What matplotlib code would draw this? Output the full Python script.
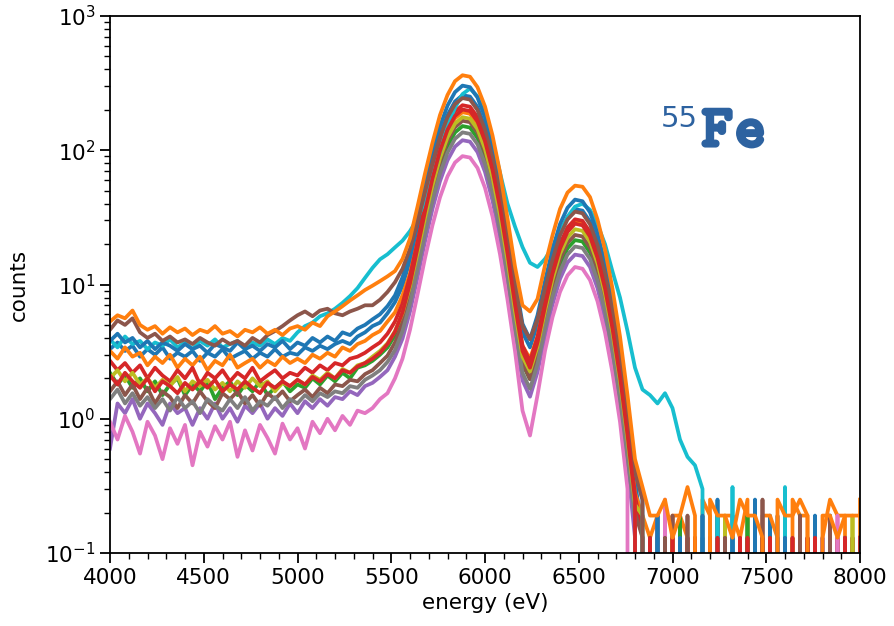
import numpy as np
import matplotlib
matplotlib.use("Agg")
import matplotlib.pyplot as plt
import matplotlib.patheffects as pe
from matplotlib.ticker import MultipleLocator

# Energy bins (eV)
energy = np.arange(4000, 8001, 40)

# Per-pixel spectra (counts per bin)
spec_00 = [3.3, 3.7, 3.2, 3.5, 2.9, 3.3, 3.0, 3.4, 2.8, 3.1, 2.9, 3.2, 2.7, 3.1, 2.9, 3.3, 2.8, 3.0, 3.2, 2.8,
           3.1, 2.9, 3.3, 2.9, 3.1, 3.0, 3.4, 3.2, 3.5, 3.3, 3.6, 3.8, 3.6, 4.1, 4.4,
           4.9, 5.2, 6.1, 7.4, 9.8, 15.1, 26, 46.7, 81, 128, 183, 231,
           257, 251, 210, 150, 91.7, 48.3, 22.2, 9.4, 4.4, 3.4, 5.05, 9.1, 15.6, 23.9, 31.7, 36.4, 35.5, 29.4,
           20.4, 12.2, 6.3, 2.8, 1.0, 0.35,
           0.13, 0, 0, 0.19, 0, 0, 0, 0.13, 0, 0, 0.25, 0, 0, 0, 0.13, 0, 0, 0.19, 0, 0, 0, 0, 0.13, 0, 0,
           0.19, 0, 0, 0.13, 0]
spec_01 = [3.2, 2.8, 3.4, 2.9, 3.1, 2.5, 2.9, 2.6, 3.0, 2.4, 2.8, 2.5, 2.9, 2.3, 2.7, 2.5, 3.0, 2.4, 2.6, 2.8,
           2.4, 2.7, 2.5, 2.9, 2.6, 2.8, 2.6, 3.0, 2.8, 3.1, 2.9, 3.4, 3.2, 3.6, 3.8,
           4.2, 4.5, 5.3, 6.2, 8.3, 12.1, 20.5, 35.9, 61.5, 96.8, 137, 173,
           192, 187, 157, 112, 68.6, 36.2, 16.8, 7.2, 3.5, 2.8, 4.1, 7.3, 12.5, 19.2, 25.4, 29.2, 28.4, 23.5,
           16.4, 9.8, 5.1, 2.25, 0.85, 0.28,
           0.19, 0.13, 0.19, 0, 0.19, 0.19, 0.13, 0, 0.25, 0.19, 0, 0.19, 0.19, 0.13, 0.25, 0, 0.19, 0.19,
           0.13, 0, 0.25, 0.19, 0.19, 0, 0.13, 0.25, 0.19, 0.19, 0, 0.25]
spec_02 = [2.2, 1.8, 2.1, 1.7, 2.0, 1.6, 1.9, 1.5, 1.8, 2.0, 1.5, 1.8, 1.6, 1.9, 1.4, 1.7, 1.9, 1.5, 1.8, 1.6,
           1.9, 1.5, 1.7, 1.9, 1.6, 1.8, 1.7, 2.0, 1.8, 2.1, 1.9, 2.2, 2.0, 2.4, 2.5,
           2.7, 3.0, 3.4, 4.2, 5.6, 8.7, 15.1, 27.3, 47.4, 75.4, 107.5, 135.7,
           151.4, 147.6, 123.4, 87.9, 53.9, 28.4, 13.0, 5.5, 2.56, 1.97, 2.95, 5.3, 9.1, 14.1, 18.6, 21.4, 20.9,
           17.3, 12.0, 7.2, 3.7, 1.6, 0.6, 0.2,
           0, 0.13, 0, 0, 0, 0.19, 0, 0, 0, 0.13, 0, 0, 0, 0, 0.19, 0, 0, 0.13, 0, 0, 0, 0.19, 0, 0, 0,
           0, 0.13, 0, 0, 0.13]
spec_03 = [2.7, 2.3, 2.6, 2.2, 2.5, 2.0, 2.4, 2.1, 1.9, 2.3, 2.0, 2.4, 1.8, 2.2, 2.0, 2.3, 1.9, 2.2, 2.0, 2.4,
           1.9, 2.1, 2.3, 2.0, 2.2, 2.1, 2.4, 2.2, 2.5, 2.3, 2.6, 2.5, 2.8, 2.9, 3.1,
           3.4, 3.7, 4.3, 5.3, 7.2, 11.6, 20.7, 38.1, 66.9, 107.2, 153, 194,
           216.5, 211, 176.5, 125.7, 77, 40.4, 18.5, 7.7, 3.5, 2.67, 4.07, 7.45, 12.9, 20.0, 26.6, 30.6, 29.8,
           24.6, 17.0, 10.1, 5.1, 2.25, 0.83, 0.27,
           0.13, 0, 0.13, 0, 0, 0, 0.13, 0, 0, 0.13, 0, 0, 0, 0.13, 0, 0, 0.13, 0, 0, 0.13, 0, 0, 0.13, 0, 0,
           0, 0.13, 0, 0.13, 0]
spec_04 = [0.6, 1.3, 1.1, 1.4, 1.0, 1.3, 1.1, 0.9, 1.3, 1.1, 1.2, 0.9, 1.2, 1.0, 1.3, 1.0, 1.2, 0.95, 1.25, 1.1,
           1.3, 1.0, 1.2, 1.05, 1.3, 1.1, 1.35, 1.2, 1.4, 1.25, 1.45, 1.4, 1.6, 1.5, 1.75,
           1.85, 2.05, 2.3, 2.9, 3.95, 6.3, 11.3, 20.9, 36.7, 58.8, 84.1, 106.4,
           118.8, 115.8, 96.9, 69, 42.2, 22.2, 10.1, 4.2, 1.93, 1.46, 2.23, 4.1, 7.1, 11.0, 14.6, 16.7, 16.3,
           13.5, 9.4, 5.56, 2.83, 1.23, 0.46, 0.13,
           0, 0, 0.19, 0, 0, 0, 0, 0.13, 0, 0, 0, 0, 0.19, 0, 0, 0, 0, 0, 0.13, 0, 0, 0, 0, 0, 0.13,
           0, 0, 0, 0, 0]
spec_05 = [1.6, 1.9, 1.5, 1.8, 1.4, 1.7, 1.3, 1.6, 1.45, 1.2, 1.5, 1.3, 1.6, 1.35, 1.2, 1.55, 1.4, 1.6, 1.3, 1.5,
           1.25, 1.55, 1.4, 1.6, 1.35, 1.5, 1.65, 1.45, 1.7, 1.55, 1.8, 1.75, 1.95, 1.9, 2.15,
           2.3, 2.6, 2.95, 3.7, 5.15, 8.4, 15.4, 28.8, 50.9, 81.8, 117.2, 148.4,
           165.8, 161.8, 135.3, 96.3, 59, 30.9, 14.1, 5.8, 2.6, 1.97, 3.04, 5.65, 9.9, 15.3, 20.4, 23.4, 22.8,
           18.8, 13.0, 7.7, 3.9, 1.7, 0.63, 0.2,
           0.13, 0, 0, 0, 0.19, 0, 0, 0, 0, 0, 0.19, 0, 0, 0, 0, 0.13, 0, 0, 0, 0.25, 0, 0, 0, 0, 0,
           0.19, 0, 0, 0, 0]
spec_06 = [0.95, 0.7, 1.05, 0.8, 0.55, 0.95, 0.75, 0.5, 0.85, 0.65, 0.9, 0.45, 0.8, 0.62, 0.88, 0.7, 0.95, 0.52,
           0.82, 0.58, 0.9, 0.72, 0.55, 0.92, 0.7, 0.85, 0.6, 0.95, 0.78, 1.0, 0.82, 1.05, 0.9, 1.15, 1.1,
           1.2, 1.4, 1.55, 2.0, 2.8, 4.6, 8.4, 15.7, 27.7, 44.6, 63.9, 81,
           90.4, 88.2, 73.8, 52.5, 32.1, 16.8, 7.7, 3.2, 1.15, 0.75, 1.5, 3.2, 5.7, 8.8, 11.7, 13.5, 13.1,
           10.8, 7.5, 4.4, 2.2, 0.95, 0.3, 0,
           0, 0, 0, 0.25, 0, 0, 0, 0, 0, 0, 0, 0, 0, 0, 0, 0.13, 0, 0, 0, 0, 0, 0, 0, 0, 0,
           0, 0.19, 0, 0, 0]
spec_07 = [1.4, 1.65, 1.3, 1.55, 1.25, 1.45, 1.2, 1.4, 1.15, 1.45, 1.2, 1.35, 1.1, 1.4, 1.25, 1.15, 1.4, 1.2,
           1.45, 1.15, 1.35, 1.25, 1.45, 1.2, 1.4, 1.3, 1.5, 1.35, 1.55, 1.45, 1.6, 1.55, 1.75, 1.7, 1.95,
           2.1, 2.3, 2.65, 3.25, 4.5, 7.2, 13.0, 23.9, 42, 67.2, 96.1, 121.7,
           135.9, 132.5, 110.8, 79, 48.3, 25.3, 11.6, 4.8, 2.2, 1.67, 2.55, 4.7, 8.1, 12.5, 16.7, 19.2, 18.7,
           15.5, 10.7, 6.36, 3.2, 1.4, 0.52, 0.18,
           0, 0, 0.13, 0, 0, 0, 0, 0, 0.13, 0, 0, 0, 0, 0, 0, 0, 0, 0, 0.19, 0, 0, 0, 0, 0.13, 0,
           0, 0, 0, 0, 0]
spec_08 = [2.0, 2.3, 1.9, 2.2, 1.8, 2.0, 1.7, 1.95, 1.75, 2.05, 1.6, 1.9, 1.75, 1.95, 1.65, 1.85, 1.6, 1.9, 1.7,
           2.0, 1.75, 1.9, 1.6, 1.85, 1.75, 1.95, 1.8, 2.1, 1.95, 2.2, 2.0, 2.35, 2.2, 2.5, 2.6,
           2.9, 3.2, 3.65, 4.5, 6.1, 9.7, 17.1, 31.3, 54.8, 87.4, 124.9, 158,
           176.3, 171.9, 143.8, 102.4, 62.7, 33, 15.1, 6.3, 2.9, 2.25, 3.44, 6.3, 10.9, 16.9, 22.4, 25.8, 25.1,
           20.8, 14.4, 8.5, 4.35, 1.9, 0.7, 0.23,
           0.19, 0, 0, 0, 0.13, 0, 0, 0, 0, 0, 0, 0.19, 0, 0, 0, 0, 0, 0, 0, 0, 0.13, 0, 0, 0, 0,
           0, 0, 0, 0.19, 0]
spec_09 = [3.9, 3.4, 4.1, 3.6, 3.8, 3.3, 3.7, 3.5, 3.9, 3.4, 3.7, 3.3, 3.8, 3.5, 3.9, 3.4, 3.6, 3.8, 3.3, 3.7,
           3.5, 3.9, 3.6, 4.0, 3.8, 4.4, 4.9, 5.2, 5.8, 6.1, 6.6, 7.3, 8.2, 9.4, 11.2,
           13.3, 15.4, 16.8, 18.9, 21.2, 25, 31, 42, 64, 98, 152, 207,
           262, 288, 252, 185, 118, 68, 40, 27, 19, 14.5, 13.5, 15.5, 19, 25, 32, 38, 40,
           36, 28, 20, 12.5, 8.0, 4.5, 2.4,
           1.65, 1.5, 1.3, 1.55, 1.2, 0.7, 0.52, 0.45, 0.3, 0, 0.19, 0, 0.31, 0, 0, 0, 0, 0, 0, 0.31, 0, 0,
           0, 0.13, 0, 0, 0, 0, 0, 0]
spec_10 = [3.8, 4.3, 3.7, 4.0, 3.4, 3.8, 3.3, 3.7, 3.5, 3.2, 3.6, 3.3, 3.5, 3.1, 3.6, 3.4, 3.2, 3.7, 3.3, 3.5,
           3.2, 3.6, 3.4, 3.8, 3.3, 3.7, 3.5, 4.0, 3.7, 4.1, 3.8, 4.4, 4.2, 4.7, 5.0,
           5.5, 6.0, 6.9, 8.3, 11.3, 17.2, 30.1, 54.5, 95, 151, 215, 271,
           303, 295, 247, 176, 108, 56.7, 26, 11.0, 5.1, 3.9, 5.9, 10.6, 18.3, 28.2, 37.3, 42.9, 41.7,
           34.5, 24, 14.3, 7.3, 3.25, 1.2, 0.41,
           0.25, 0, 0.19, 0, 0, 0.13, 0, 0, 0.19, 0, 0, 0, 0.13, 0, 0, 0.25, 0, 0, 0, 0.13, 0, 0, 0, 0.19, 0,
           0, 0, 0.13, 0, 0]
spec_11 = [4.6, 5.4, 5.0, 5.6, 4.4, 4.0, 4.3, 3.8, 4.1, 3.7, 3.9, 3.6, 4.0, 3.7, 3.5, 3.9, 3.6, 3.8, 3.5, 4.0,
           3.7, 4.2, 4.5, 4.9, 5.4, 5.9, 6.3, 5.8, 6.4, 6.6, 6.1, 5.9, 6.3, 6.6, 7.0,
           7.0, 7.7, 8.8, 10.4, 13.1, 18.5, 29.1, 48.7, 80.9, 125.3, 176, 220.5,
           244.8, 238.3, 199.2, 142.2, 87.5, 46.5, 21.8, 9.7, 4.9, 3.9, 5.5, 9.3, 15.3, 23.2, 30.5, 34.9, 33.9,
           28.1, 19.7, 12.0, 6.3, 2.9, 1.1, 0.41,
           0.25, 0, 0, 0.13, 0, 0, 0.19, 0, 0, 0, 0, 0.13, 0, 0, 0, 0, 0.25, 0, 0, 0, 0, 0.19, 0, 0, 0,
           0, 0, 0.13, 0, 0]
spec_12 = [2.1, 1.8, 2.2, 1.9, 1.7, 2.0, 1.6, 1.9, 1.75, 1.55, 1.85, 1.65, 1.9, 1.7, 1.95, 1.6, 1.8, 1.65, 1.9,
           1.7, 1.55, 1.85, 1.7, 1.9, 1.75, 1.95, 1.8, 2.05, 1.9, 2.15, 2.0, 2.3, 2.2, 2.45, 2.6,
           2.8, 3.1, 3.6, 4.45, 6.2, 10.2, 18.7, 34.9, 61.7, 99.1, 142, 180,
           201, 196, 164, 116.8, 71.4, 37.4, 17.1, 7.1, 3.2, 2.4, 3.7, 6.85, 12, 18.5, 24.7, 28.4, 27.6,
           22.8, 15.8, 9.35, 4.7, 2.05, 0.76, 0.25,
           0, 0.13, 0, 0, 0.13, 0, 0, 0.13, 0, 0, 0.13, 0, 0, 0, 0.13, 0, 0, 0.13, 0, 0, 0.13, 0, 0, 0.13, 0,
           0, 0, 0.13, 0, 0.13]
spec_13 = [5.3, 5.9, 5.6, 6.4, 5.0, 4.6, 4.9, 4.3, 4.8, 4.4, 4.7, 4.2, 4.6, 4.4, 4.9, 4.3, 4.5, 4.1, 4.6, 4.4,
           4.8, 4.3, 4.6, 4.2, 4.7, 4.9, 4.6, 5.2, 4.9, 5.8, 6.3, 6.9, 7.6, 8.3, 9.1,
           9.8, 10.6, 11.5, 12.6, 15.5, 22, 38, 67, 114, 183, 258, 327,
           362, 353, 295, 212, 129, 68.5, 31, 13.6, 7.0, 6.3, 7.8, 13.9, 23.2, 36.5, 48.4, 54.5, 53.5,
           44.8, 30.5, 18.2, 9.3, 4.1, 1.5, 0.5,
           0.31, 0.19, 0.19, 0.25, 0.13, 0.19, 0.31, 0.19, 0, 0.25, 0.19, 0.19, 0.13, 0.25, 0.19, 0.19, 0.13,
           0, 0.25, 0.19, 0.19, 0.25, 0.19, 0, 0.19, 0.19, 0.13, 0.19, 0.19, 0.19]

spectra = [spec_00, spec_01, spec_02, spec_03, spec_04, spec_05, spec_06,
           spec_07, spec_08, spec_09, spec_10, spec_11, spec_12, spec_13]
line_colors = ["tab:blue", "tab:orange", "tab:green", "tab:red", "tab:purple", "tab:brown",
               "tab:pink", "tab:gray", "tab:olive", "tab:cyan", "tab:blue", "tab:brown",
               "tab:red", "tab:orange"]

W, H = 894, 626
fig = plt.figure(figsize=(W / 100, H / 100), dpi=100)
ax = fig.add_axes([110 / W, 1 - 553 / H, 750 / W, 537 / H])
ax.set_yscale("log")

for counts, col in zip(spectra, line_colors):
    ax.plot(energy, counts, color=col, lw=2.7)

ax.set_xlim(4000, 8000)
ax.set_ylim(0.1, 1000)
ax.xaxis.set_major_locator(MultipleLocator(500))
ax.xaxis.set_minor_locator(MultipleLocator(100))
ax.tick_params(which="major", length=7, width=1.3, labelsize=15.5, direction="out")
ax.tick_params(which="minor", length=4, width=1.0, direction="out")
for sp in ax.spines.values():
    sp.set_linewidth(1.3)

ax.set_xlabel("energy (eV)", fontsize=15.5, labelpad=4)
ax.set_ylabel("counts", fontsize=15.5, labelpad=12)

# Isotope label: sans superscript mass number, heavy typewriter element symbol
label_col = "#2d62a0"
heavy = [pe.withStroke(linewidth=3.0, foreground=label_col)]
fig.text(661 / W, 1 - 127 / H, "55", fontsize=21, color=label_col,
         family="DejaVu Sans", va="baseline", ha="left")
fig.text(702 / W, 1 - 146 / H, r"$\mathtt{F}$", fontsize=42, color=label_col,
         math_fontfamily="cm", va="baseline", ha="left", path_effects=heavy)
fig.text(735 / W, 1 - 146 / H, r"$\mathtt{e}$", fontsize=42, color=label_col,
         math_fontfamily="cm", va="baseline", ha="left", path_effects=heavy)

fig.savefig("out.png", dpi=100)
